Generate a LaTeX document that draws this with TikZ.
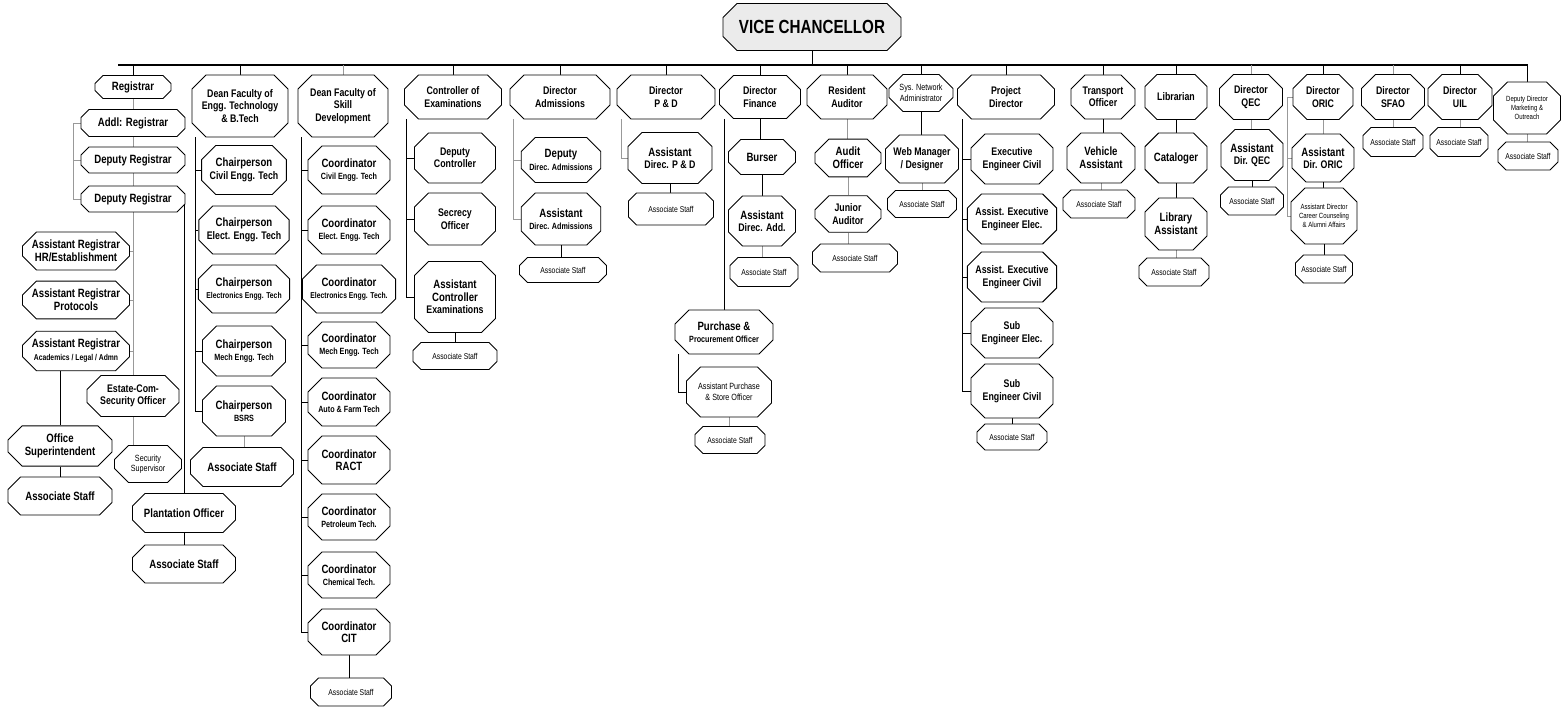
\documentclass[tikz,border=0pt]{standalone}
\usepackage{fontspec}
\setmainfont{Liberation Sans}[FakeStretch=0.8]
\usepackage{tikz}
\usetikzlibrary{shapes.misc,backgrounds}

\newcommand{\fv}{\fontsize{19}{21}\selectfont\bfseries}
\newcommand{\fa}{\fontsize{12}{13}\selectfont\bfseries}
\newcommand{\fb}{\fontsize{11}{12.5}\selectfont\bfseries}
\newcommand{\fc}{\fontsize{9}{10.5}\selectfont}
\newcommand{\fd}{\fontsize{8.5}{10}\selectfont}
\newcommand{\fe}{\fontsize{7.5}{9}\selectfont}

\begin{document}
\begin{tikzpicture}[x=1pt,y=-1pt,
  org/.style={chamfered rectangle, chamfered rectangle sep=7pt, draw=black, line width=0.9pt,
    fill=white, align=center, inner sep=1pt, font=\fb},
  sm/.style={chamfered rectangle sep=4pt, font=\fd},
  sz/.style 2 args={minimum width=#1pt, minimum height=#2pt},
  link/.style={black, line width=0.9pt},
  glink/.style={black!40, line width=0.8pt}]
\useasboundingbox (0,0) rectangle (1561,711);

\node[org,sz={178}{47},fill=black!8,font=\fv] (vc) at (812,27) {VICE CHANCELLOR};
\coordinate (barl) at (118,65);
\coordinate (barr) at (1528,65);

% Registrar
\node[org,sm,sz={76}{23},font=\fa] (reg) at (133,87) {Registrar};
\node[org,sm,sz={104}{27},font=\fa] (addl) at (133,123) {Addl: Registrar};
\node[org,sm,sz={104}{26},font=\fa] (dreg1) at (133,160) {Deputy Registrar};
\node[org,sm,sz={104}{26},font=\fa] (dreg2) at (133,199) {Deputy Registrar};
\node[org,sz={107}{36},font=\fa] (arhr) at (76,251) {Assistant Registrar\\HR/Establishment};
\node[org,sz={107}{36},font=\fa] (arpr) at (76,300) {Assistant Registrar\\Protocols};
\node[org,sz={107}{38},font=\fa] (arac) at (76,351) {Assistant Registrar\\{\fd Academics / Legal / Admn}};
\node[org,sz={92}{41}] (estate) at (133,396) {Estate-Com-\\Security Officer};
\node[org,sz={104}{38},font=\fa] (offs) at (60,446) {Office\\Superintendent};
\node[org,sz={104}{38},font=\fa] (as1) at (60,496) {Associate Staff};
\node[org,sz={67}{37},font=\fc] (secs) at (148,464) {Security\\Supervisor};
\node[org,sz={103}{39},font=\fa] (plant) at (184,513) {Plantation Officer};
\node[org,sz={103}{38},font=\fa] (as2) at (184,564) {Associate Staff};

% Dean Engg
\node[org,sz={96}{62}] (deng) at (240,106) {Dean Faculty of\\Engg. Technology\\\& B.Tech};
\node[org,sz={83}{49}] (ch1) at (244,170) {{\fa Chairperson}\\Civil Engg. Tech};
\node[org,sz={83}{48}] (ch2) at (244,230) {{\fa Chairperson}\\Elect. Engg. Tech};
\node[org,sz={83}{48}] (ch3) at (244,289) {{\fa Chairperson}\\{\fd Electronics Engg. Tech}};
\node[org,sz={83}{50}] (ch4) at (244,351) {{\fa Chairperson}\\{\fc Mech Engg. Tech}};
\node[org,sz={83}{50}] (ch5) at (244,411) {{\fa Chairperson}\\{\fc BSRS}};
\node[org,sz={103}{39},font=\fa] (as3) at (242,467) {Associate Staff};

% Dean Skill
\node[org,sz={90}{62}] (dskl) at (343,106) {Dean Faculty of\\Skill\\Development};
\node[org,sz={82}{48}] (co1) at (349,170) {{\fa Coordinator}\\{\fc Civil Engg. Tech}};
\node[org,sz={82}{48}] (co2) at (349,230) {{\fa Coordinator}\\{\fc Elect. Engg. Tech}};
\node[org,sz={82}{48}] (co3) at (349,289) {{\fa Coordinator}\\{\fd Electronics Engg. Tech.}};
\node[org,sz={82}{46}] (co4) at (349,345) {{\fa Coordinator}\\{\fc Mech Engg. Tech}};
\node[org,sz={82}{48}] (co5) at (349,402) {{\fa Coordinator}\\{\fc Auto \& Farm Tech}};
\node[org,sz={82}{48}] (co6) at (349,460) {{\fa Coordinator}\\{\fa RACT}};
\node[org,sz={82}{46}] (co7) at (349,517) {{\fa Coordinator}\\{\fc Petroleum Tech.}};
\node[org,sz={82}{46}] (co8) at (349,575) {{\fa Coordinator}\\{\fc Chemical Tech.}};
\node[org,sz={82}{46}] (co9) at (349,632) {{\fa Coordinator}\\{\fa CIT}};
\node[org,sm,sz={81}{28}] (as4) at (351,692) {Associate Staff};

% Controller of Examinations
\node[org,sz={97}{44}] (ctrl) at (453,97) {Controller of\\Examinations};
\node[org,sz={81}{50}] (dctl) at (455,158) {Deputy\\Controller};
\node[org,sz={81}{52}] (secr) at (455,219) {Secrecy\\Officer};
\node[org,sz={81}{71}] (actl) at (455,297) {{\fa Assistant}\\{\fa Controller}\\Examinations};
\node[org,sm,sz={84}{27}] (as5) at (455,356) {Associate Staff};

% Admissions
\node[org,sz={100}{44}] (adm) at (560,97) {Director\\Admissions};
\node[org,sz={77}{45}] (dadm) at (561,160) {{\fa Deputy}\\{\fc Direc. Admissions}};
\node[org,sz={77}{52}] (aadm) at (561,219) {{\fa Assistant}\\{\fc Direc. Admissions}};
\node[org,sm,sz={87}{25}] (as6) at (563,270) {Associate Staff};

% P & D
\node[org,sz={98}{44}] (pnd) at (666,97) {Director\\P \& D};
\node[org,sz={84}{51}] (apnd) at (670,158) {{\fa Assistant}\\Direc. P \& D};
\node[org,sm,sz={85}{32}] (as7) at (671,209) {Associate Staff};

% Finance
\node[org,sz={81}{43}] (fin) at (760,97) {Director\\Finance};
\node[org,sz={67}{35},font=\fa] (burs) at (762,157) {Burser};
\node[org,sz={67}{50}] (adad) at (762,221) {{\fa Assistant}\\Direc. Add.};
\node[org,sm,sz={68}{29}] (as8) at (764,272) {Associate Staff};
\node[org,sz={98}{44}] (purc) at (724,332) {{\fa Purchase \&}\\{\fc Procurement Officer}};
\node[org,sz={85}{50},font=\fc] (apur) at (729,392) {Assistant Purchase\\\& Store Officer};
\node[org,sm,sz={70}{27}] (as9) at (730,440) {Associate Staff};

% Auditor
\node[org,sz={80}{44}] (aud) at (847,97) {Resident\\Auditor};
\node[org,sz={66}{35},font=\fa] (audo) at (848,158) {Audit\\Officer};
\node[org,sz={66}{36}] (jaud) at (848,214) {Junior\\Auditor};
\node[org,sm,sz={85}{28}] (as10) at (855,258) {Associate Staff};

% Sys. Network
\node[org,sz={64}{37},font=\fc] (sys) at (921,93) {Sys. Network\\Administrator};
\node[org,sz={65}{48}] (web) at (922,159) {Web Manager\\/ Designer};
\node[org,sm,sz={69}{27}] (as11) at (922,204) {Associate Staff};

% Project
\node[org,sz={97}{44}] (prj) at (1006,97) {Project\\Director};
\node[org,sz={82}{50}] (ex1) at (1012,159) {Executive\\Engineer Civil};
\node[org,sz={82}{50}] (ex2) at (1012,219) {Assist. Executive\\Engineer Elec.};
\node[org,sz={82}{50}] (ex3) at (1012,277) {Assist. Executive\\Engineer Civil};
\node[org,sz={82}{50}] (ex4) at (1012,333) {Sub\\Engineer Elec.};
\node[org,sz={82}{54}] (ex5) at (1012,391) {Sub\\Engineer Civil};
\node[org,sm,sz={70}{26}] (as12) at (1012,437) {Associate Staff};

% Transport
\node[org,sz={64}{44}] (trn) at (1103,97) {Transport\\Officer};
\node[org,sz={68}{50},font=\fa] (veh) at (1101,158) {Vehicle\\Assistant};
\node[org,sm,sz={72}{28}] (as13) at (1099,204) {Associate Staff};

% Library
\node[org,sz={62}{45}] (lib) at (1176,97) {Librarian};
\node[org,sz={62}{50},font=\fa] (cat) at (1176,158) {Cataloger};
\node[org,sz={62}{52},font=\fa] (lass) at (1176,224) {Library\\Assistant};
\node[org,sm,sz={70}{28}] (as14) at (1174,272) {Associate Staff};

% QEC
\node[org,sz={63}{45}] (qec) at (1251,97) {Director\\QEC};
\node[org,sz={62}{51}] (aqec) at (1252,155) {{\fa Assistant}\\Dir. QEC};
\node[org,sm,sz={63}{28}] (as15) at (1252,201) {Associate Staff};

% ORIC
\node[org,sz={60}{45}] (oric) at (1323,97) {Director\\ORIC};
\node[org,sz={62}{48}] (aoric) at (1323,158) {{\fa Assistant}\\Dir. ORIC};
\node[org,sz={62}{56},font=\fe] (acar) at (1324,216) {Assistant Director\\Career Counseling\\\& Alumni Affairs};
\node[org,sm,sz={57}{28}] (as16) at (1324,269) {Associate Staff};

% SFAO, UIL, Marketing
\node[org,sz={63}{45}] (sfao) at (1393,97) {Director\\SFAO};
\node[org,sm,sz={60}{29}] (as17) at (1393,142) {Associate Staff};
\node[org,sz={64}{45}] (uil) at (1460,97) {Director\\UIL};
\node[org,sm,sz={58}{29}] (as18) at (1459,142) {Associate Staff};
\node[org,sz={67}{52},font=\fe] (ddm) at (1527,108) {Deputy Director\\Marketing \&\\Outreach};
\node[org,sm,sz={60}{28}] (as19) at (1528,156) {Associate Staff};

% rails
\coordinate (engr) at (195,0);
\coordinate (sklr) at (301,0);
\coordinate (ctlr) at (406,0);
\coordinate (admr) at (513,0);
\coordinate (pndr) at (621,0);
\coordinate (purr) at (678,0);
\coordinate (prjr) at (962,0);

\begin{scope}[on background layer]
\draw[line width=1.6pt] (barl) -- (barr);
\draw[link] (vc) -- (vc |- barl);
\foreach \n in {reg,deng,ctrl,adm,pnd,fin,aud,sys,prj,trn,lib,oric,uil,ddm}
  \draw[link] (\n.north |- barl) -- (\n.north);
\foreach \n in {dskl,qec,sfao}
  \draw[glink] (\n.north |- barl) -- (\n.north);

% registrar
\draw[glink] (reg.south) -- (estate.north);
\draw[glink] (addl.west) -- ++(-7,0) |- (dreg2.west);
\draw[glink] (dreg1.west) -- ++(-7,0);
\foreach \n in {arhr,arpr,arac}
  \draw[glink] (\n.east) -- (\n.east -| reg);
\draw[link] (arac.south -| offs.north) -- (offs.north);
\draw[glink] (estate.south) -- (estate.south |- secs.north);
\draw[link] (plant.north |- dreg2.east) -- (plant.north);

% deans and directors
\draw[link] (deng.south -| engr) |- (ch5.west);
\foreach \n in {ch1,ch2,ch3,ch4}
  \draw[link] (\n.west -| engr) -- (\n.west);
\draw[link] (dskl.south -| sklr) |- (co9.west);
\foreach \n in {co1,co2,co3,co4,co5,co6,co7,co8}
  \draw[link] (\n.west -| sklr) -- (\n.west);
\draw[link] (ctrl.south -| ctlr) |- (actl.west);
\foreach \n in {dctl,secr}
  \draw[link] (\n.west -| ctlr) -- (\n.west);
\draw[glink] (adm.south -| admr) |- (aadm.west);
\draw[glink] (dadm.west -| admr) -- (dadm.west);
\draw[glink] (pnd.south -| pndr) |- (apnd.west);
\draw[link] (fin.south -| purc.north) -- (purc.north);
\draw[link] (purc.south -| purr) |- (apur.west);
\draw[link] (prj.south -| prjr) |- (ex5.west);
\foreach \n in {ex1,ex2,ex3,ex4}
  \draw[link] (\n.west -| prjr) -- (\n.west);
\draw[glink] (oric.west) -- ++(-5,0) |- (acar.west);
\draw[glink] (aoric.west) -- ++(-5,0);

% straight links
\foreach \a/\b in {offs/as1,plant/as2,co9/as4,actl/as5,aadm/as6,apnd/as7,fin/burs,burs/adad,
  sys/web,ex5/as12,trn/veh,lib/cat,cat/lass,aqec/as15,aoric/acar,acar/as16}
  \draw[link] (\a.south) -- (\a.south |- \b.north);
\foreach \a/\b in {ch5/as3,adad/as8,apur/as9,aud/audo,audo/jaud,jaud/as10,web/as11,veh/as13,
  lass/as14,qec/aqec,oric/aoric,sfao/as17,uil/as18,ddm/as19}
  \draw[glink] (\a.south) -- (\a.south |- \b.north);
\end{scope}
\end{tikzpicture}
\end{document}
